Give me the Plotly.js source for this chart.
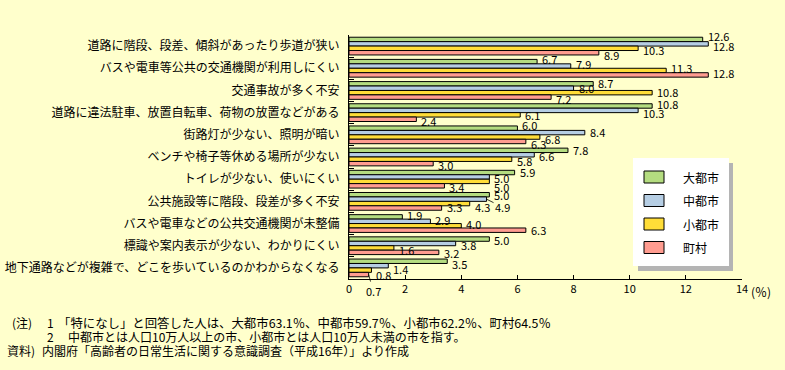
<!DOCTYPE html>
<html>
<head>
<meta charset="utf-8">
<script src="https://cdn.plot.ly/plotly-3.0.1.min.js"></script>
<style>
  html, body { margin: 0; padding: 0; background: #FFFFCC; }
  #chart { width: 785px; height: 370px; }
</style>
</head>
<body>
<div id="chart"></div>
<script>
// ---- data ----
const categories = [
  '道路に階段、段差、傾斜があったり歩道が狭い',
  'バスや電車等公共の交通機関が利用しにくい',
  '交通事故が多く不安',
  '道路に違法駐車、放置自転車、荷物の放置などがある',
  '街路灯が少ない、照明が暗い',
  'ベンチや椅子等休める場所が少ない',
  'トイレが少ない、使いにくい',
  '公共施設等に階段、段差が多く不安',
  'バスや電車などの公共交通機関が未整備',
  '標識や案内表示が少ない、わかりにくい',
  '地下通路などが複雑で、どこを歩いているのかわからなくなる'
];
const daitoshi = [12.6, 6.7, 8.7, 10.8, 6.0, 7.8, 5.9, 5.0, 1.9, 5.0, 3.5];
const chutoshi = [12.8, 7.9, 8.0, 10.3, 8.4, 6.6, 5.0, 4.9, 2.9, 3.8, 1.4];
const shotoshi = [10.3, 11.3, 10.8, 6.1, 6.8, 5.8, 5.0, 4.3, 4.0, 1.6, 0.8];
const chouson  = [8.9, 12.8, 7.2, 2.4, 6.3, 3.0, 3.4, 3.3, 6.3, 3.2, 0.7];
const seriesNames = ['大都市', '中都市', '小都市', '町村'];
const xTickVals = [0, 2, 4, 6, 8, 10, 12, 14];
const notes = [
  '「特になし」と回答した人は、大都市63.1％、中都市59.7％、小都市62.2％、町村64.5％',
  '中都市とは人口10万人以上の市、小都市とは人口10万人未満の市を指す。',
  '「高齢者の日常生活に関する意識調査（平成16年）」より作成'
];

// ---- styles ----
const colors = ['#B4DC80', '#B6CEE4', '#FFDD38', '#FF9C90'];
const seriesValues = [daitoshi, chutoshi, shotoshi, chouson];
const FONT = '"Noto Sans CJK JP", "Noto Sans", sans-serif';

// plot area in pixels
const L = 349, R = 742, T = 35, B = 279;
const px = x => (x - L) / (R - L);
const py = y => (B - y) / (B - T);

const traces = seriesValues.map((vals, s) => ({
  type: 'bar',
  orientation: 'h',
  name: seriesNames[s],
  x: vals,
  y: categories,
  marker: { color: colors[s], line: { color: '#000', width: 1 } },
  hoverinfo: 'skip'
}));

// label nudges (px, positive = down) to mimic the hand-placed labels
const nudge = [
  [-3, 2, 2, 2],
  [-2.5, -2.5, -2.5, -1.5],
  [-1, 0, -0.5, 1.5],
  [-1.5, 3, 0, 1.5],
  [-3, -0.5, 1.5, 3],
  [0, 1, 1.5, 1],
  [-0.5, 1.5, 6, 1.5],
  [0.5, 0, 3, -1],
  [-1.5, -1, -2, 0],
  [0.5, 1.5, 2, 1],
  [3, 3.5, 5, 0]
];
const barH = (B - T) / categories.length * 0.8 / 4;

const annotations = [];
seriesValues.forEach((vals, s) => {
  vals.forEach((v, i) => {
    const base = (1.5 - s) * barH;
    const special = (s === 1 && i === 7) || (s === 3 && i === 10);
    if (special) {
      const off = (s === 1) ? { ax: 16, ay: 8 } : { ax: 4.5, ay: 16.5 };
      annotations.push({
        x: v, y: categories[i], xref: 'x', yref: 'y',
        yshift: base,
        text: v.toFixed(1),
        showarrow: true, arrowhead: 0, arrowwidth: 0.8, arrowcolor: '#000',
        standoff: 0, ax: off.ax, ay: off.ay,
        font: { size: 11, color: '#000', family: FONT }
      });
    } else {
      annotations.push({
        x: v, y: categories[i], xref: 'x', yref: 'y',
        xanchor: 'left', yanchor: 'middle',
        xshift: 3, yshift: base - nudge[i][s],
        text: v.toFixed(1), showarrow: false,
        font: { size: 11, color: '#000', family: FONT }
      });
    }
  });
});

// (%) unit
annotations.push({
  x: 14, xref: 'x', y: py(291), yref: 'paper',
  xanchor: 'left', yanchor: 'middle', xshift: 7,
  text: '(％)', showarrow: false,
  font: { size: 12, color: '#000', family: FONT }
});

// legend (manual)
const shapes = [
  { type: 'rect', xref: 'paper', yref: 'paper', x0: px(638), x1: px(733), y0: py(271), y1: py(163),
    fillcolor: '#B4B4B4', line: { width: 0 } },
  { type: 'rect', xref: 'paper', yref: 'paper', x0: px(633), x1: px(729), y0: py(266), y1: py(158),
    fillcolor: '#FFFFFF', line: { width: 0 } }
];
const legY = [177, 200.5, 224, 247.5];
seriesNames.forEach((n, s) => {
  shapes.push({
    type: 'rect', xref: 'paper', yref: 'paper',
    x0: px(644), x1: px(664), y0: py(legY[s] + 6), y1: py(legY[s] - 6),
    fillcolor: colors[s], line: { color: '#000', width: 1 }
  });
  annotations.push({
    x: px(681), y: py(legY[s]), xref: 'paper', yref: 'paper',
    xanchor: 'left', yanchor: 'middle', text: n, showarrow: false,
    font: { size: 12, color: '#000', family: FONT }
  });
});

// notes
function note(x, y, text, size) {
  annotations.push({
    x: px(x), y: py(y), xref: 'paper', yref: 'paper',
    xanchor: 'left', yanchor: 'middle', text: text, showarrow: false,
    font: { size: size || 12, color: '#000', family: FONT }
  });
}
note(10, 322.5, '(注)');
note(45, 322.5, '1');
note(56, 322.5, notes[0], 12.4);
note(45, 336.5, '2');
note(66, 336.5, notes[1]);
note(5, 350.5, '資料)');
note(40, 350.5, '内閣府' + notes[2]);

const layout = {
  width: 785, height: 370,
  paper_bgcolor: '#FFFFCC', plot_bgcolor: '#FFFFCC',
  margin: { l: L, r: 785 - R, t: T, b: 370 - B, pad: 0 },
  barmode: 'group', bargap: 0.2, bargroupgap: 0,
  showlegend: false,
  font: { family: FONT, color: '#000', size: 12 },
  xaxis: {
    range: [0, 14], autorange: false, tickvals: xTickVals, ticktext: xTickVals.map(String),
    ticks: 'inside', ticklen: 4, tickcolor: '#000', tickwidth: 1,
    showline: true, linecolor: '#000', linewidth: 1,
    showgrid: false, zeroline: false,
    tickfont: { size: 11, family: FONT, color: '#000' }, fixedrange: true
  },
  yaxis: {
    type: 'category', range: [categories.length - 0.5, -0.5], autorange: false,
    ticks: 'inside', tickson: 'boundaries', ticklen: 5, tickcolor: '#000', tickwidth: 1,
    showline: true, linecolor: '#000', linewidth: 1,
    showgrid: false, zeroline: false, ticklabelstandoff: 6,
    tickfont: { size: 12, family: FONT, color: '#000' }, fixedrange: true
  },
  annotations: annotations,
  shapes: shapes
};

Plotly.newPlot('chart', traces, layout, { staticPlot: true, displayModeBar: false });
</script>
</body>
</html>
